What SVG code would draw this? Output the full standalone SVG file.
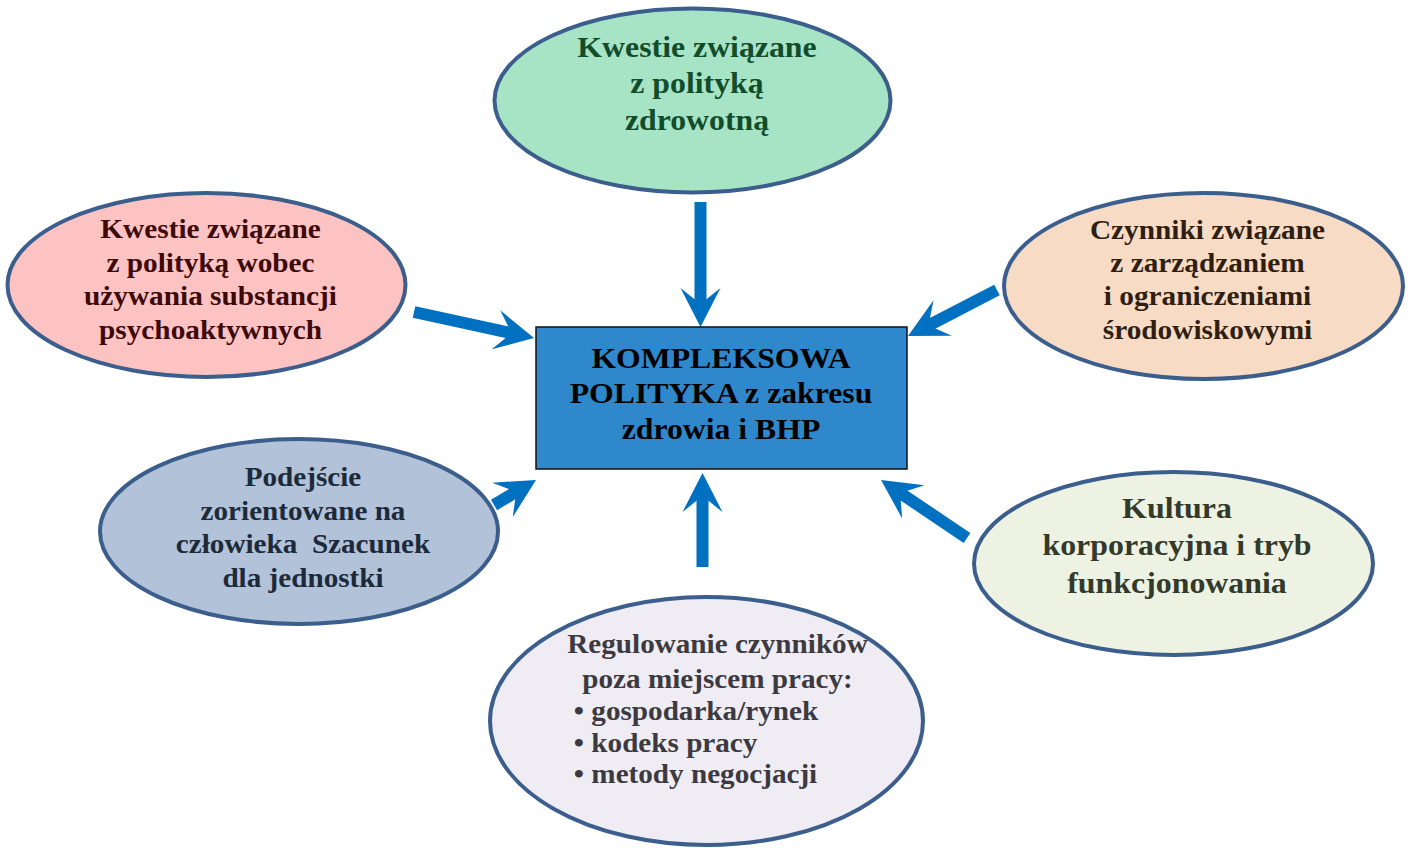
<svg xmlns="http://www.w3.org/2000/svg" width="1414" height="848" viewBox="0 0 1414 848">
<style>
.ell{stroke:#3b5e8c;stroke-width:4}
.t{font-family:"Liberation Serif","Times New Roman",serif;font-weight:bold;text-anchor:middle}
.tl{font-family:"Liberation Serif","Times New Roman",serif;font-weight:bold;text-anchor:start}
.arr{stroke:#0070c0;stroke-width:12;fill:none;marker-end:url(#head)}
</style>
<defs>
<marker id="head" markerUnits="userSpaceOnUse" markerWidth="40" markerHeight="42" viewBox="0 0 40 42" refX="19" refY="21" orient="auto">
<path d="M0,1 L39,21 L0,41 L16,21 Z" fill="#0070c0"/>
</marker>
</defs>
<rect width="1414" height="848" fill="#ffffff"/>
<g id="connectors">
<line class="arr" x1="700.5" y1="202" x2="700.5" y2="307"/>
<line class="arr" x1="414" y1="312" x2="514.5" y2="333.8"/>
<line class="arr" x1="997" y1="290" x2="925.8" y2="326.8"/>
<line class="arr" x1="494" y1="505" x2="518.8" y2="490.2"/>
<line class="arr" x1="702.5" y1="567" x2="702.5" y2="493"/>
<line class="arr" x1="967" y1="538" x2="897.6" y2="491.2"/>
</g>
<g id="center">
<rect x="536" y="327" width="371" height="142" fill="#2e88cb" stroke="#111" stroke-width="1.5"/>
<g transform="translate(721 0) scale(1.095 1)" fill="#000">
<text class="t" x="0" y="368" font-size="29">KOMPLEKSOWA</text>
<text class="t" x="0" y="403" font-size="29">POLITYKA z zakresu</text>
<text class="t" x="0" y="439" font-size="29">zdrowia i BHP</text>
</g>
</g>
<g id="top">
<ellipse class="ell" cx="692.5" cy="100.5" rx="198" ry="92" fill="#a6e4c5"/>
<g transform="translate(697 0) scale(1.06 1)" fill="#124d2b">
<text class="t" x="0" y="57" font-size="30">Kwestie związane</text>
<text class="t" x="0" y="93.5" font-size="30">z polityką</text>
<text class="t" x="0" y="130" font-size="30">zdrowotną</text>
</g>
</g>
<g id="upper-left">
<ellipse class="ell" cx="206.5" cy="285" rx="199" ry="92" fill="#fdc3c3"/>
<g transform="translate(210.5 0) scale(1.085 1)" fill="#3d0a0a">
<text class="t" x="0" y="238.5" font-size="27">Kwestie związane</text>
<text class="t" x="0" y="272" font-size="27">z polityką wobec</text>
<text class="t" x="0" y="305.5" font-size="27">używania substancji</text>
<text class="t" x="0" y="339.5" font-size="27">psychoaktywnych</text>
</g>
</g>
<g id="upper-right">
<ellipse class="ell" cx="1203.5" cy="286" rx="199.5" ry="93" fill="#f8dbc4"/>
<g transform="translate(1207.5 0) scale(1.085 1)" fill="#2e1f12">
<text class="t" x="0" y="239.5" font-size="27">Czynniki związane</text>
<text class="t" x="0" y="272" font-size="27">z zarządzaniem</text>
<text class="t" x="0" y="305.5" font-size="27">i ograniczeniami</text>
<text class="t" x="0" y="339" font-size="27">środowiskowymi</text>
</g>
</g>
<g id="lower-left">
<ellipse class="ell" cx="299" cy="531.5" rx="199" ry="92.5" fill="#b2c2d8"/>
<g transform="translate(303 0) scale(1.08 1)" fill="#1c2a3a">
<text class="t" x="0" y="486.5" font-size="27">Podejście</text>
<text class="t" x="0" y="520" font-size="27">zorientowane na</text>
<text class="t" x="0" y="553.5" font-size="27">człowieka&#160; Szacunek</text>
<text class="t" x="0" y="587" font-size="27">dla jednostki</text>
</g>
</g>
<g id="lower-right">
<ellipse class="ell" cx="1173.5" cy="563.5" rx="199.5" ry="91.5" fill="#eef2e2"/>
<g transform="translate(1177 0) scale(1.063 1)" fill="#333a2c">
<text class="t" x="0" y="518.5" font-size="30">Kultura</text>
<text class="t" x="0" y="555.5" font-size="30">korporacyjna i tryb</text>
<text class="t" x="0" y="593" font-size="30">funkcjonowania</text>
</g>
</g>
<g id="bottom">
<ellipse class="ell" cx="706.5" cy="721" rx="216.5" ry="124" fill="#efecf4"/>
<g transform="translate(717.5 0) scale(1.08 1)" fill="#3c3a40">
<text class="t" x="0" y="653.5" font-size="27">Regulowanie czynników</text>
<text class="t" x="0" y="688.5" font-size="27">poza miejscem pracy:</text>
<text class="tl" x="-133" y="720" font-size="27">• gospodarka/rynek</text>
<text class="tl" x="-133" y="752" font-size="27">• kodeks pracy</text>
<text class="tl" x="-133" y="783.5" font-size="27">• metody negocjacji</text>
</g>
</g>
</svg>
